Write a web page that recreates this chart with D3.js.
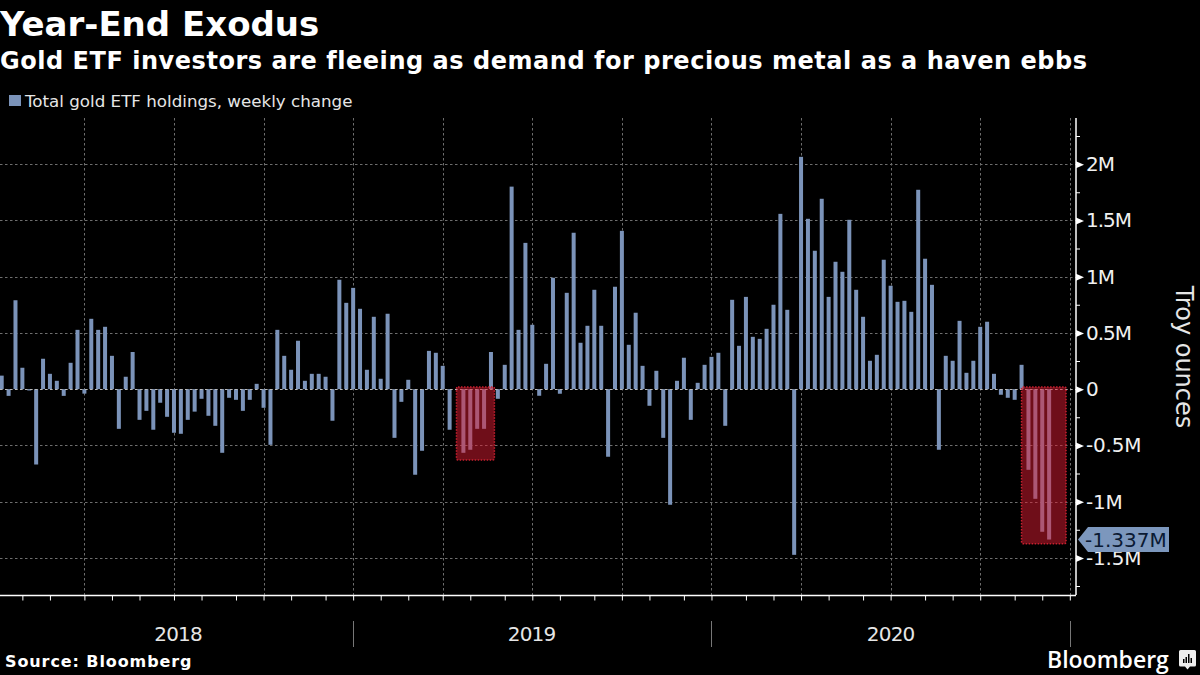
<!DOCTYPE html>
<html>
<head>
<meta charset="utf-8">
<script src="https://cdn.jsdelivr.net/npm/d3@7"></script>
<style>
  html, body { margin: 0; padding: 0; background: #000; }
  text { font-family: "DejaVu Sans", sans-serif; fill: #fff; }
</style>
</head>
<body>
<div id="chart"></div>
<script>
const width = 1200;
const height = 675;
const margin = { top: 118, left: 0, bottom: 80, right: 124 };
const iheight = height - margin.top - margin.bottom;

const titleText = "Year-End Exodus";
const subtitleText = "Gold ETF investors are fleeing as demand for precious metal as a haven ebbs";
const legendText = "Total gold ETF holdings, weekly change";
const sourceText = "Source: Bloomberg";
const axisTitle = "Troy ounces";

// weekly change in million troy ounces
const weeklyChange = [
  0.12, -0.06, 0.79, 0.19, -0.012, -0.67, 0.27, 0.136, 0.074, -0.06, 0.234, 0.527, -0.04,
  0.625, 0.527, 0.554, 0.296, -0.353, 0.11, 0.33, -0.273, -0.193, -0.361, -0.121, -0.246, -0.388,
  -0.397, -0.273, -0.2, -0.086, -0.237, -0.326, -0.566, -0.077, -0.095, -0.193, -0.095, 0.047, -0.166,
  -0.495, 0.527, 0.296, 0.172, 0.43, 0.074, 0.136, 0.136, 0.11, -0.281, 0.972, 0.767, 0.9,
  0.714, 0.172, 0.643, 0.092, 0.67, -0.433, -0.113, 0.083, -0.761, -0.548, 0.34, 0.323, 0.207,
  -0.361, 0, -0.566, -0.539, -0.353, -0.353, 0.33, -0.086, 0.216, 1.8, 0.527, 1.3, 0.572,
  -0.059, 0.225, 0.99, -0.041, 0.856, 1.39, 0.412, 0.563, 0.883, 0.563, -0.601, 0.91, 1.407,
  0.394, 0.679, 0.207, -0.148, 0.163, -0.433, -1.028, 0.074, 0.279, -0.273, 0.056, 0.216, 0.287,
  0.323, -0.326, 0.794, 0.385, 0.82, 0.465, 0.447, 0.536, 0.75, 1.558, 0.705, -1.473, 2.065,
  1.514, 1.23, 1.692, 0.82, 1.132, 1.043, 1.505, 0.883, 0.643, 0.252, 0.305, 1.15, 0.919,
  0.776, 0.785, 0.687, 1.772, 1.159, 0.927, -0.539, 0.296, 0.252, 0.607, 0.145, 0.252, 0.554,
  0.599, 0.136, -0.05, -0.077, -0.095, 0.216, -0.717, -0.975, -1.268, -1.337
];

const weekCount = 156;
const monthTicks = [3, 7, 12, 16, 20, 25, 29, 34, 38, 42, 47, 51, 55, 59, 64, 68, 73, 77, 81, 86, 90, 94, 99, 103, 108, 112, 116, 120, 125, 129, 134, 138, 142, 147, 151, 155];
const quarterTicks = [12, 25, 38, 51, 64, 77, 90, 103, 116, 129, 142, 155];
const yearLabels = ["2018", "2019", "2020"];
const yearCenters = [25.6, 76.9, 129];
const yearEnds = [51, 103, 155];

const majorTicks = [-1.5, -1, -0.5, 0, 0.5, 1, 1.5, 2];
const minorTicks = [-1.75, -1.25, -0.75, -0.25, 0.25, 0.75, 1.25, 1.75, 2.25];

const boxFrom = [66, 148];
const boxTo = [71.5, 154.45];
const boxLow = [-0.63, -1.375];
const boxHigh = 0.02;

const lastValueLabel = "-1.337M";
const barColor = "#7b93b9";
const gridColor = "#6e6e6e";

const svg = d3.select("#chart").append("svg")
  .attr("width", width)
  .attr("height", height)
  .style("display", "block");

const x = d3.scaleLinear().domain([0, weekCount - 1]).range([1.7, 1069.8]);
const y = d3.scaleLinear().domain([2.41, -1.83]).range([margin.top, margin.top + iheight]);
const axisX = 1076;
const axisY = y(-1.83);

// headings
svg.append("text").attr("x", 0).attr("y", 36).attr("font-size", 34).attr("font-weight", "bold").text(titleText);
svg.append("text").attr("x", 0).attr("y", 68.5).attr("font-size", 24).attr("font-weight", "bold").attr("letter-spacing", 0.53).text(subtitleText);
svg.append("rect").attr("x", 9).attr("y", 95).attr("width", 12).attr("height", 11).attr("fill", barColor);
svg.append("text").attr("x", 25).attr("y", 107).attr("font-size", 16.7).style("fill", "#e6e6e6").text(legendText);

// grid
const grid = svg.append("g").attr("stroke", gridColor).attr("stroke-width", 1).attr("stroke-dasharray", "2.5,2.5");
grid.selectAll(".h").data(majorTicks).enter().append("line")
  .attr("class", "h")
  .attr("x1", 0).attr("x2", axisX)
  .attr("y1", d => Math.round(y(d)) + 0.5).attr("y2", d => Math.round(y(d)) + 0.5);
grid.selectAll(".v").data(quarterTicks).enter().append("line")
  .attr("class", "v")
  .attr("x1", d => Math.round(x(d)) + 0.5).attr("x2", d => Math.round(x(d)) + 0.5)
  .attr("y1", margin.top).attr("y2", axisY);

// bars
svg.append("g").selectAll("rect").data(weeklyChange).enter().append("rect")
  .attr("fill", barColor)
  .attr("x", (d, i) => x(i) - 2)
  .attr("width", 4)
  .attr("y", d => y(Math.max(d, 0)))
  .attr("height", d => Math.abs(y(d) - y(0)));

// zero line runs on top of the bar feet
svg.append("line").attr("x1", 0).attr("x2", axisX).attr("y1", Math.round(y(0)) + 0.5).attr("y2", Math.round(y(0)) + 0.5)
  .attr("stroke", "#bbb").attr("stroke-dasharray", "2.5,2.5");

// red highlight boxes
svg.append("g").selectAll("rect").data(boxFrom).enter().append("rect")
  .attr("x", d => x(d))
  .attr("y", y(boxHigh))
  .attr("width", (d, i) => x(boxTo[i]) - x(d))
  .attr("height", (d, i) => y(boxLow[i]) - y(boxHigh))
  .attr("rx", 1.5)
  .attr("fill", "rgba(222,28,50,0.5)")
  .attr("stroke", "#c9202f")
  .attr("stroke-width", 1.5)
  .attr("stroke-dasharray", "1.5,1.5");

// bottom axis
const xAxis = svg.append("g")
  .attr("transform", `translate(0,${Math.round(axisY) + 0.5})`)
  .call(d3.axisBottom(x).tickValues(monthTicks).tickSize(5).tickFormat(""));
xAxis.select(".domain").attr("d", `M0,0H${axisX}`).attr("stroke", "#fff").attr("stroke-width", 1.5);
xAxis.selectAll(".tick line").attr("stroke", "#fff");

// year labels and separators
svg.append("g").selectAll("text").data(yearLabels).enter().append("text")
  .attr("x", (d, i) => x(yearCenters[i]))
  .attr("y", 641)
  .attr("text-anchor", "middle")
  .attr("font-size", 20)
  .attr("letter-spacing", -0.8)
  .style("fill", "#e6e6e6")
  .text(d => d);
svg.append("g").selectAll("line").data(yearEnds).enter().append("line")
  .attr("x1", d => Math.round(x(d)) + 0.5).attr("x2", d => Math.round(x(d)) + 0.5)
  .attr("y1", 621).attr("y2", 647)
  .attr("stroke", "#777");

// right axis
const yMinor = svg.append("g")
  .attr("transform", `translate(${axisX},0)`)
  .call(d3.axisRight(y).tickValues(minorTicks).tickSize(4).tickFormat(""));
yMinor.select(".domain").attr("d", `M0,${margin.top}V${axisY}`).attr("stroke", "#fff").attr("stroke-width", 1.5);
yMinor.selectAll(".tick line").attr("stroke", "#fff");

const yMajor = svg.append("g")
  .attr("transform", `translate(${axisX},0)`)
  .call(d3.axisRight(y).tickValues(majorTicks).tickSize(0).tickPadding(10).tickFormat(d => d === 0 ? "0" : d + "M"));
yMajor.select(".domain").remove();
yMajor.selectAll(".tick").append("path").attr("d", "M0,-3.5L8,0L0,3.5Z").attr("fill", "#fff");
yMajor.selectAll(".tick text")
  .attr("font-size", 20)
  .attr("font-family", null)
  .attr("letter-spacing", d => d < 0 ? -0.2 : -1)
  .style("fill", "#f0f0f0");

svg.append("text")
  .attr("transform", "translate(1176,357) rotate(90)")
  .attr("text-anchor", "middle")
  .attr("font-size", 24)
  .style("fill", "#e6e6e6")
  .text(axisTitle);

// last value tag
const tagY = y(weeklyChange[weeklyChange.length - 1]);
svg.append("path")
  .attr("d", `M${axisX + 2},${tagY}L${axisX + 12},${tagY - 12.5}H1169V${tagY + 12.5}H${axisX + 12}Z`)
  .attr("fill", "#7c97bd");
svg.append("text")
  .attr("x", 1085)
  .attr("y", tagY + 7.5)
  .attr("font-size", 20)
  .style("fill", "#0b1a33")
  .text(lastValueLabel);

// footer
svg.append("text").attr("x", 5).attr("y", 667).attr("font-size", 16).attr("font-weight", "bold").attr("letter-spacing", 0.9).text(sourceText);
svg.append("text").attr("x", 1047).attr("y", 668).attr("font-size", 23).attr("font-weight", 600)
  .style("font-family", "'Open Sans', sans-serif").text("Bloomberg");

// logo mark
const logo = svg.append("g").attr("transform", "translate(1179,650)");
logo.append("path").attr("d", "M1.5,0H15.5Q17,0 17,1.5V15Q17,16.5 15.5,16.5H11L8.5,19.5L6,16.5H1.5Q0,16.5 0,15V1.5Q0,0 1.5,0Z").attr("fill", "#eee");
logo.append("g").attr("fill", "#000").selectAll("rect")
  .data([[4, 9, 1.5, 4], [6.5, 7, 1.5, 6], [9, 4, 1.5, 9], [11.5, 8, 1.5, 5]])
  .enter().append("rect")
  .attr("x", d => d[0]).attr("y", d => d[1]).attr("width", d => d[2]).attr("height", d => d[3]);
</script>
</body>
</html>
